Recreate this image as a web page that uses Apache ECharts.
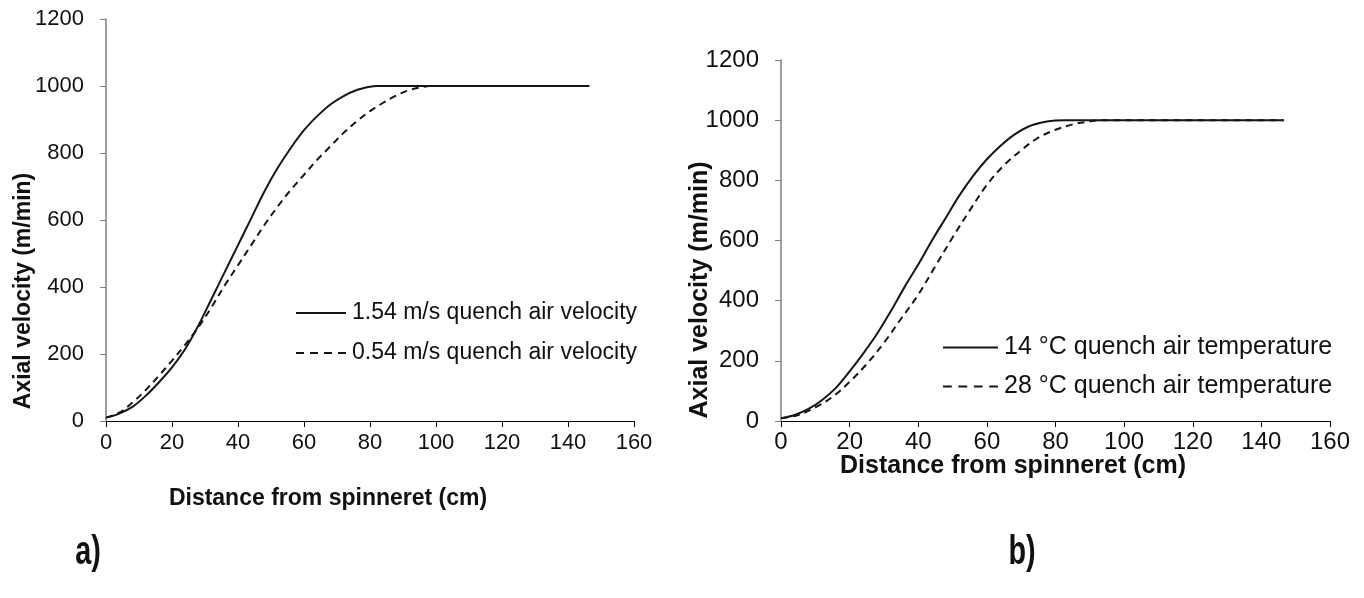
<!DOCTYPE html>
<html><head><meta charset="utf-8">
<script src="https://cdn.jsdelivr.net/npm/echarts@6/dist/echarts.min.js"></script>
<style>html,body{margin:0;padding:0;background:#fff}#c{width:1364px;height:598px}</style>
</head><body><div id="c"></div>
<script>
// ---- Panel a) : quench air velocity ----
const namesA = ['1.54 m/s quench air velocity', '0.54 m/s quench air velocity'];
const distA1 = [0, 4, 8, 12, 16, 20, 24, 28, 32, 36, 40, 44, 48, 52, 56, 60, 64, 68, 72, 76, 80, 82, 146.5];
const velA1  = [10, 22, 42, 75, 115, 160, 215, 285, 365, 445, 525, 605, 685, 755, 815, 868, 910, 945, 970, 988, 998, 1000, 1000];
const distA2 = [0, 4, 8, 12, 16, 20, 24, 28, 32, 36, 40, 44, 48, 52, 56, 60, 64, 68, 72, 76, 80, 84, 88, 92, 96, 98, 146.5];
const velA2  = [10, 25, 55, 92, 135, 180, 228, 280, 340, 405, 465, 525, 585, 640, 690, 735, 780, 820, 860, 895, 925, 950, 972, 988, 997, 1000, 1000];

// ---- Panel b) : quench air temperature ----
const namesB = ['14 \u00B0C quench air temperature', '28 \u00B0C quench air temperature'];
const distB1 = [0, 4, 8, 12, 16, 20, 24, 28, 32, 36, 40, 44, 48, 52, 56, 60, 64, 68, 72, 76, 80, 83, 146.5];
const velB1  = [9, 20, 40, 70, 110, 165, 225, 290, 365, 445, 520, 600, 675, 750, 815, 870, 915, 952, 978, 992, 999, 1000, 1000];
const distB2 = [0, 5, 10, 15, 20, 25, 30, 35, 40, 45, 50, 55, 60, 65, 70, 75, 80, 85, 90, 93, 146.5];
const velB2  = [9, 20, 45, 80, 130, 190, 260, 340, 420, 515, 610, 700, 785, 850, 900, 942, 968, 986, 996, 1000, 1000];

// ---- Axes ----
const xMin = 0, xMax = 160, xStep = 20;
const yMin = 0, yMax = 1200, yStep = 200;
const yTitle = 'Axial velocity (m/min)';
const xTitle = 'Distance from spinneret (cm)';

const FONT = "'Liberation Sans', Arial, sans-serif";
const zip = (xs, ys) => xs.map((x, i) => [x, ys[i]]);
const SOLID_ICON = 'path://M0,0H50V2H0Z';
const DASH_ICON = 'path://M0,0H8V2H0Z M14,0H22V2H14Z M28,0H36V2H28Z M42,0H50V2H42Z';

function xAxis(gi, fs, margin) {
  return {
    type: 'value', gridIndex: gi, min: xMin, max: xMax, interval: xStep,
    axisLine: { show: true, lineStyle: { color: '#000', width: 1 } },
    axisTick: { show: true, inside: false, length: 6, lineStyle: { color: '#000' } },
    axisLabel: { color: '#111', fontSize: fs, fontFamily: FONT, margin, formatter: v => String(v) },
    splitLine: { show: false }
  };
}
function yAxis(gi, fs) {
  return {
    type: 'value', gridIndex: gi, min: yMin, max: yMax, interval: yStep,
    axisLine: { show: true, lineStyle: { color: '#7f7f7f', width: 1.5 } },
    axisTick: { show: true, inside: false, length: 6, lineStyle: { color: '#7f7f7f' } },
    axisLabel: { color: '#111', fontSize: fs, fontFamily: FONT, margin: 22, formatter: v => String(v) },
    splitLine: { show: false }
  };
}
function line(name, xi, data, dashed) {
  return {
    name, type: 'line', xAxisIndex: xi, yAxisIndex: xi, data,
    symbol: 'none', showSymbol: false, smooth: 0.35,
    lineStyle: { color: '#161616', width: 2, type: dashed ? [7, 5] : 'solid' },
    itemStyle: { color: '#161616' }
  };
}
function legend(names, left, top, fs, w, gap) {
  return {
    data: [{ name: names[0], icon: SOLID_ICON }, { name: names[1], icon: DASH_ICON }],
    orient: 'vertical', left, top, padding: 0,
    itemWidth: w, itemHeight: 2, itemGap: gap, symbolKeepAspect: false,
    itemStyle: { color: '#161616', borderWidth: 0 },
    lineStyle: { width: 0 },
    textStyle: { fontSize: fs, fontFamily: FONT, color: '#111', lineHeight: 24, padding: [0, 0, 0, 1] },
    selectedMode: false
  };
}
function txt(s, x, y, fs, rot, scaleX) {
  return {
    type: 'text', x, y, rotation: rot || 0, scaleX: scaleX || 1,
    style: { text: s, font: 'bold ' + fs + 'px ' + FONT, fill: '#111',
             textAlign: 'center', textVerticalAlign: 'middle' }
  };
}

const chart = echarts.init(document.getElementById('c'), null, { renderer: 'canvas' });
chart.setOption({
  animation: false,
  backgroundColor: '#fff',
  grid: [
    { left: 106, top: 19, width: 528, height: 402 },
    { left: 781, top: 60, width: 549, height: 361 }
  ],
  xAxis: [xAxis(0, 22, 11), xAxis(1, 24, 9)],
  yAxis: [yAxis(0, 22), yAxis(1, 24)],
  legend: [
    legend(namesA, 296, 301, 23, 50, 16),
    legend(namesB, 943, 335, 25, 55, 14)
  ],
  series: [
    line(namesA[0], 0, zip(distA1, velA1), false),
    line(namesA[1], 0, zip(distA2, velA2), true),
    line(namesB[0], 1, zip(distB1, velB1), false),
    line(namesB[1], 1, zip(distB2, velB2), true)
  ],
  graphic: [
    txt(yTitle, 24, 291, 23, Math.PI / 2),
    txt(yTitle, 700, 290, 25, Math.PI / 2),
    txt(xTitle, 328, 499, 23, 0, 1.0),
    txt(xTitle, 1013, 466, 25),
    txt('a)', 88, 553, 40, 0, 0.72),
    txt('b)', 1022, 553, 40, 0, 0.72)
  ]
});
</script></body></html>
